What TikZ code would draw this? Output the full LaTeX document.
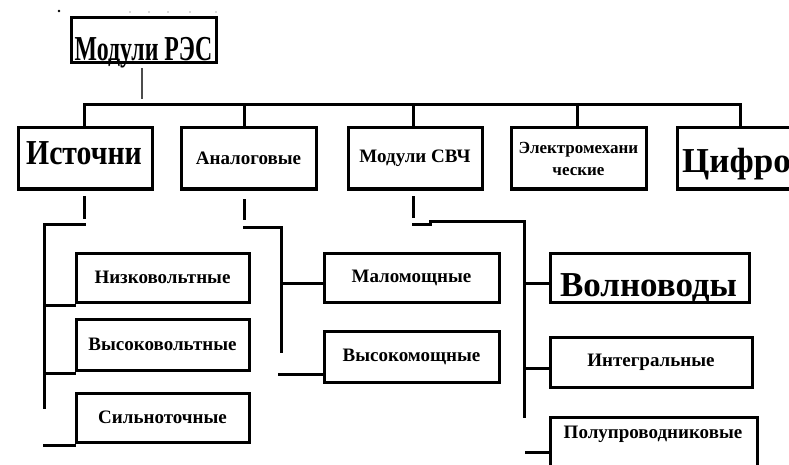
\documentclass[tikz,border=0pt]{standalone}
\usepackage{fontspec}
\setmainfont{Liberation Serif}
\newfontfamily\narrowserif[FakeStretch=0.68]{Liberation Serif}
\newfontfamily\condserif[FakeStretch=0.85]{Liberation Serif}
\usetikzlibrary{calc}

\begin{document}
\begin{tikzpicture}[
  x=1pt, y=-1pt,
  module box/.style={
    draw, line width=3pt, inner sep=0pt,
    font=\bfseries\fontsize{19}{24}\selectfont
  },
  big label/.style={inner sep=0pt, font=\bfseries\fontsize{35}{36}\selectfont},
  tree line/.style={line width=3pt, line cap=rect}
]
\useasboundingbox (0,0) rectangle (789,465);
\clip (0,0) rectangle (789,465);

\foreach \dx in {130,149,168,190,216} \fill[gray!60] (\dx,12) circle (0.8);
\fill (59,11) circle (1.3);

\node[module box, minimum width=145, minimum height=45] (res) at (143.5,40.5) {};
\node[big label, font=\narrowserif\bfseries\fontsize{35}{36}\selectfont, anchor=base] (restext) at (143.5,61) {Модули РЭС};

\node[module box, minimum width=134, minimum height=61] (ist) at (85,158.5) {};
\node[big label, font=\condserif\bfseries\fontsize{35}{36}\selectfont, anchor=base] (isttext) at (84,165) {Источни};
\node[module box, minimum width=135, minimum height=61] (ana) at (248.5,158.5) {Аналоговые};
\node[module box, minimum width=134, minimum height=61] (svch) at (415,158.5) {Модули СВЧ};
\node[module box, minimum width=135, minimum height=61, align=center,
  font=\bfseries\fontsize{17}{22}\selectfont] (elm) at (578.5,158.5) {Электромехани\\ческие};
\node[module box, minimum width=136, minimum height=61] (cif) at (745,158.5) {};
\node[big label, anchor=base west] (ciftext) at (682,173) {Цифровые};

\node[module box, minimum width=173, minimum height=49] (nizk) at (162.5,277.5) {Низковольтные};
\node[module box, minimum width=173, minimum height=51] (vysk) at (162.5,344.5) {Высоковольтные};
\node[module box, minimum width=173, minimum height=49] (sil) at (162.5,417.5) {Сильноточные};

\node[module box, minimum width=175, minimum height=49] (malo) at (411.5,277.5) {Маломощные};
\node[module box, minimum width=175, minimum height=51] (vyso) at (411.5,356.5) {Высокомощные};

\node[module box, minimum width=199, minimum height=49] (voln) at (649.5,277.5) {};
\node[big label, anchor=base] (volntext) at (648.5,296) {Волноводы};
\node[module box, minimum width=202, minimum height=50] (integ) at (651,362) {Интегральные};
\node[module box, minimum width=207, minimum height=60, anchor=north] (polu) at (653.5,416) {};
\node[module box, draw=none] (polutext) at (653,434) {Полупроводниковые};

\coordinate (bus) at (0,105);
\draw[tree line] ([xshift=-1pt]ist.north |- bus) -- ([xshift=-5pt]cif.north |- bus);
\foreach \n/\dx in {ist/-1, ana/-4.5, svch/-2, elm/-1.5, cif/-5}
  \draw[tree line] ([xshift=\dx pt]\n.north) -- ([xshift=\dx pt]\n.north |- bus);
\draw[line width=2pt, gray!60!black] ([xshift=-1.5pt, yshift=-4pt]res.south) -- ([xshift=-1.5pt, yshift=6pt]res.south |- bus);

\coordinate (istT) at (44,224);
\coordinate (istB) at (44,407);
\draw[tree line] ([xshift=-1pt, yshift=-7pt]ist.south) -- ++(0,20);
\draw[tree line] ([xshift=-1pt]ist.south |- istT) -- (istT) -- (istB);
\foreach \n in {nizk, vysk, sil}
  \draw[tree line] ([yshift=-2pt]istT |- \n.south west) -- ([yshift=-2pt]\n.south west);

\coordinate (anaT) at (281,227);
\coordinate (anaB) at (281,351);
\draw[tree line] ([xshift=-4.5pt, yshift=-10pt]ana.south) -- ++(0,18);
\draw[tree line] ([xshift=-4.5pt]ana.south |- anaT) -- (anaT) -- (anaB);
\draw[tree line] ([yshift=-5.5pt]anaT |- malo.west) -- ([yshift=-5.5pt]malo.west);
\draw[tree line] ([xshift=-2pt, yshift=-17.5pt]anaT |- vyso.west) -- ([yshift=-17.5pt]vyso.west);

\coordinate (svchT) at (524,221);
\draw[tree line] ([xshift=-2pt, yshift=-7pt]svch.south) -- ++(0,19);
\draw[tree line] ([xshift=-2pt]svch.south |- 0,224) -- ++(17,0) |- (svchT) -- (svchT |- polu.north);
\draw[tree line] ([yshift=-5.5pt]svchT |- voln.west) -- ([yshift=-5.5pt]voln.west);
\draw[tree line] ([yshift=-6pt]svchT |- integ.west) -- ([yshift=-6pt]integ.west);
\draw[tree line] ([xshift=2pt, yshift=-5pt]svchT |- polu.west) -- ([yshift=-5pt]polu.west);
\end{tikzpicture}
\end{document}
